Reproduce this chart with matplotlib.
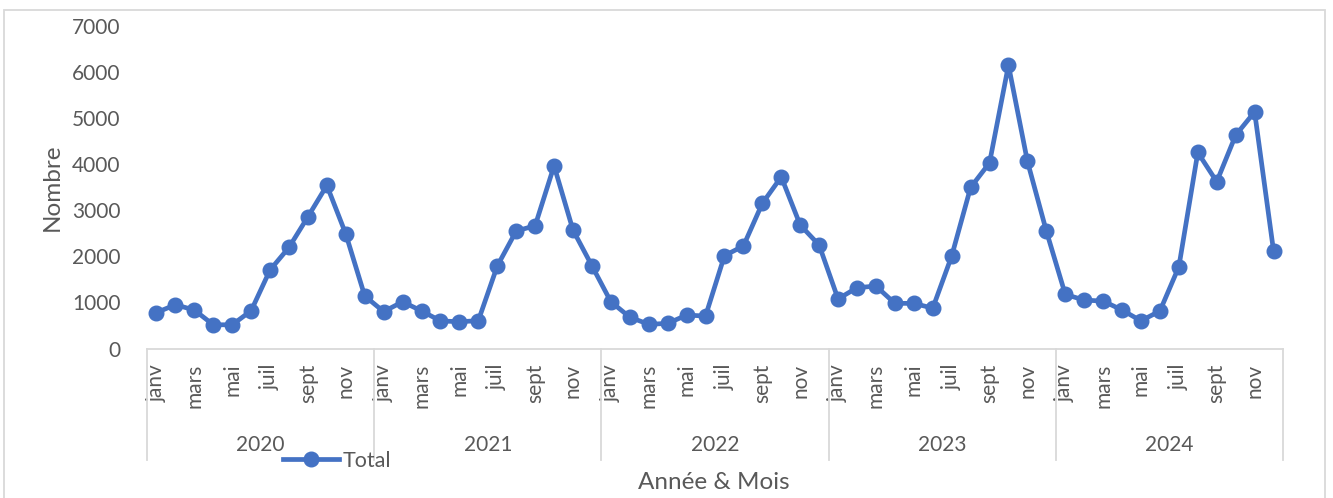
import matplotlib
matplotlib.use("Agg")
import matplotlib.pyplot as plt
import matplotlib.transforms as mtransforms
from matplotlib.patches import Rectangle

years = ["2020", "2021", "2022", "2023", "2024"]
months = ["janv", "févr", "mars", "avr", "mai", "juin",
          "juil", "août", "sept", "oct", "nov", "déc"]
total_2020 = [780, 950, 835, 515, 515, 820, 1705, 2195, 2860, 3540, 2485, 1140]
total_2021 = [800, 1015, 815, 600, 580, 605, 1790, 2550, 2665, 3965, 2570, 1795]
total_2022 = [1015, 680, 525, 545, 725, 705, 2015, 2225, 3150, 3725, 2680, 2245]
total_2023 = [1075, 1320, 1355, 980, 980, 875, 2005, 3495, 4030, 6150, 4065, 2550]
total_2024 = [1175, 1050, 1030, 835, 600, 815, 1775, 4255, 3620, 4630, 5135, 2120]
series = [total_2020, total_2021, total_2022, total_2023, total_2024]
yticks = [0, 1000, 2000, 3000, 4000, 5000, 6000, 7000]

values = [v for s in series for v in s]
labels = [m for _ in years for m in months]
n = len(values)

FONT = "Lato"
TXT = "#595959"
GRID = "#D9D9D9"
BLUE = "#4472C4"

plt.rcParams["font.family"] = [FONT, "DejaVu Sans"]

W, H = 1333, 498
fig = plt.figure(figsize=(W / 100, H / 100), dpi=100)
ax = fig.add_axes([147 / W, 1 - 348.5 / H, (1283 - 147) / W, (348.5 - 26) / H])

x = list(range(n))
line, = ax.plot(x, values, color=BLUE, lw=3.4, marker="o", ms=10.5,
                label="Total", solid_joinstyle="round", clip_on=False, zorder=3)

ax.set_xlim(-0.5, n - 0.5)
ax.set_ylim(0, 7000)
ax.set_yticks(yticks)
ax.set_yticklabels([str(t) for t in yticks])
ax.tick_params(axis="y", length=0, pad=19, labelsize=15, labelcolor=TXT)

ax.set_xticks(x[::2])
ax.set_xticklabels(labels[::2], rotation=90, fontsize=15, color=TXT)
ax.tick_params(axis="x", length=0, pad=11)
for lab in ax.get_xticklabels():
    lab.set_verticalalignment("top")
    lab.set_horizontalalignment("center")

for s in ["top", "right", "left"]:
    ax.spines[s].set_visible(False)
ax.spines["bottom"].set_color(GRID)
ax.spines["bottom"].set_linewidth(1.3)

trans = mtransforms.blended_transform_factory(ax.transData, ax.transAxes)
sep_bottom = -(460 - 348.5) / (348.5 - 26)
for k in range(len(years) + 1):
    xs = k * 12 - 0.5
    ax.plot([xs, xs], [0, sep_bottom], color=GRID, lw=1.3, transform=trans,
            clip_on=False)
year_y = -(445 - 348.5) / (348.5 - 26)
for k, yr in enumerate(years):
    ax.text(k * 12 + 5.5, year_y, yr, transform=trans, ha="center",
            va="center", fontsize=15, color=TXT)

fig.text(714 / W, 1 - 482 / H, "Année & Mois", ha="center", va="center",
         fontsize=17.5, color=TXT)
fig.text(52 / W, 1 - 187 / H, "Nombre", ha="center", va="center",
         rotation=90, fontsize=17.5, color=TXT)

fig.legend(handles=[line], loc="center left",
           bbox_to_anchor=(283 / W, 1 - 461 / H), frameon=False,
           fontsize=15.5, handlelength=2.6, handletextpad=0.15,
           borderpad=0, borderaxespad=0, labelcolor=TXT)

fig.patches.append(Rectangle((4 / W, -0.05), (1325 - 4) / W, 1.05 - 10 / H,
                             transform=fig.transFigure, fill=False,
                             edgecolor=GRID, lw=1.3))

fig.savefig("out.png", dpi=100)
